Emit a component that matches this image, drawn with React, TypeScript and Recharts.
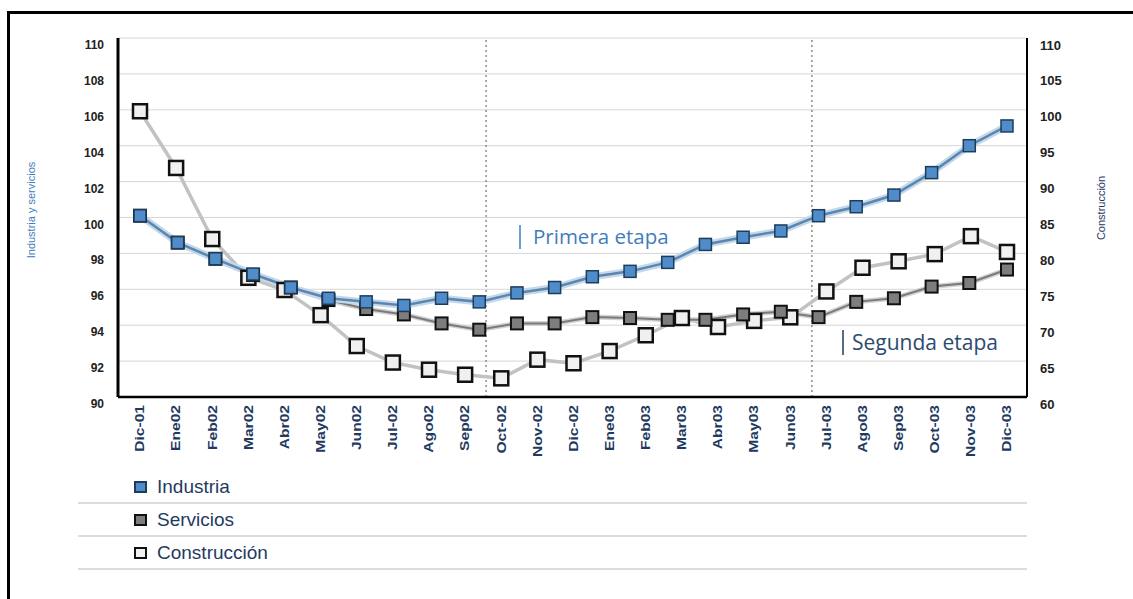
import React from "react";
import { LineChart, Line, XAxis, YAxis, CartesianGrid, ReferenceLine } from "recharts";

// Meses del eje horizontal (construcción tiene un punto por mes)
const months = [
  "Dic-01", "Ene02", "Feb02", "Mar02", "Abr02", "May02", "Jun02", "Jul-02", "Ago02", "Sep02",
  "Oct-02", "Nov-02", "Dic-02", "Ene03", "Feb03", "Mar03", "Abr03", "May03", "Jun03", "Jul-03",
  "Ago03", "Sep03", "Oct-03", "Nov-03", "Dic-03",
];

// Índices (eje izquierdo)
const industria = [
  100.1, 98.6, 97.7, 96.85, 96.1, 95.5, 95.3, 95.1, 95.5, 95.3, 95.8, 96.1,
  96.7, 97.0, 97.5, 98.5, 98.9, 99.25, 100.1, 100.6, 101.25, 102.5, 104.0, 105.1,
];
const servicios = [
  100.1, 98.6, 97.7, 96.8, 96.1, 95.4, 94.9, 94.6, 94.1, 93.75, 94.1, 94.1,
  94.45, 94.4, 94.3, 94.3, 94.6, 94.75, 94.45, 95.3, 95.5, 96.15, 96.35, 97.1,
];
// Índice de construcción (eje derecho)
const construccion = [
  99.8, 91.9, 82.0, 76.6, 74.9, 71.4, 67.1, 64.8, 63.8, 63.1, 62.6, 65.2, 64.7,
  66.4, 68.6, 71.0, 69.75, 70.6, 71.1, 74.7, 78.0, 78.9, 79.9, 82.4, 80.2,
];

const leftTicks = [90, 92, 94, 96, 98, 100, 102, 104, 106, 108, 110];
const rightTicks = [60, 65, 70, 75, 80, 85, 90, 95, 100, 105, 110];
// Cortes entre etapas, en unidades del eje de meses
const stageBreaks = [9.58, 18.6];

const industriaData = industria.map((v, i) => ({ i, v }));
const serviciosData = servicios.map((v, i) => ({ i, v }));
const construccionData = construccion.map((v, i) => ({ i, v }));

const NAVY = "#1f3a5f";
const BLUE = "#3f7dbd";
const sans = "'Liberation Sans', Arial, sans-serif";

const series = [
  { name: "Industria", fill: "#4f8cc9", stroke: "#1d3d5c" },
  { name: "Servicios", fill: "#7d7d7d", stroke: "#111" },
  { name: "Construcción", fill: "#f0f0f0", stroke: "#111" },
];

function squareDot(fill: string, stroke: string, size: number, sw: number) {
  return (props: any) => {
    const { cx, cy, index } = props;
    if (cx == null || cy == null) return <g key={index} />;
    return (
      <rect
        key={index}
        x={cx - size / 2}
        y={cy - size / 2}
        width={size}
        height={size}
        fill={fill}
        stroke={stroke}
        strokeWidth={sw}
      />
    );
  };
}

// etiquetas de mes giradas y algo estiradas (tipografía condensada)
function MonthTick(props: any) {
  const { x, y, payload } = props;
  return (
    <text
      transform={`translate(${x}, ${y}) rotate(-90) scale(1.3, 1)`}
      textAnchor="end"
      dominantBaseline="central"
      fontFamily={sans}
      fontSize={12}
      fontWeight="bold"
      fill={NAVY}
    >
      {months[payload.value]}
    </text>
  );
}

function ValueTick(props: any) {
  const { x, y, payload, textAnchor, size } = props;
  return (
    <text
      x={x}
      y={y + 7}
      textAnchor={textAnchor}
      dominantBaseline="central"
      fontFamily={sans}
      fontSize={size}
      fontWeight="bold"
      fill="#222"
    >
      {payload.value}
    </text>
  );
}

export default function App() {
  return (
    <div style={{ position: "absolute", left: 0, top: 0, width: 1133, height: 599, background: "#fff", overflow: "hidden" }}>
      <div
        style={{
          position: "absolute",
          left: 7,
          top: 11,
          width: 1140,
          height: 600,
          borderLeft: "3px solid #000",
          borderTop: "3px solid #000",
        }}
      />
      <div style={{ position: "absolute", left: 0, top: 0 }}>
        <LineChart width={1133} height={470} margin={{ top: 38, right: 56, left: 78, bottom: 8 }}>
          <CartesianGrid
            xAxisId="m"
            yAxisId="left"
            vertical={false}
            stroke="#d6d6d6"
            strokeWidth={1}
          />
          <XAxis
            xAxisId="m"
            type="number"
            dataKey="i"
            domain={[0, 24]}
            ticks={months.map((_, i) => i)}
            interval={0}
            padding={{ left: 22, right: 20 }}
            height={65}
            tick={<MonthTick />}
            tickLine={false}
            tickMargin={2}
            axisLine={{ stroke: "#000", strokeWidth: 2.5 }}
          />
          <XAxis
            xAxisId="s"
            type="number"
            dataKey="i"
            domain={[0, 23]}
            padding={{ left: 22, right: 20 }}
            hide
          />
          <YAxis
            yAxisId="left"
            domain={[90, 110]}
            ticks={leftTicks}
            interval={0}
            width={40}
            tickLine={false}
            tickMargin={8}
            axisLine={{ stroke: "#000", strokeWidth: 3 }}
            tick={<ValueTick size={12} />}
          />
          <YAxis
            yAxisId="right"
            orientation="right"
            domain={[60, 110]}
            ticks={rightTicks}
            interval={0}
            width={50}
            tickLine={false}
            tickMargin={7}
            axisLine={{ stroke: "#000", strokeWidth: 2 }}
            tick={<ValueTick size={13} />}
          />
          {stageBreaks.map((b) => (
            <ReferenceLine
              key={b}
              xAxisId="m"
              yAxisId="left"
              x={b}
              stroke="#555"
              strokeDasharray="2 3"
              strokeWidth={1}
            />
          ))}

          {/* construcción: trazo gris claro, eje derecho */}
          <Line
            xAxisId="m"
            yAxisId="right"
            data={construccionData}
            dataKey="v"
            stroke="#c2c2c2"
            strokeWidth={3.5}
            dot={squareDot(series[2].fill, series[2].stroke, 14, 2.5)}
            isAnimationActive={false}
          />
          {/* servicios */}
          <Line
            xAxisId="s"
            yAxisId="left"
            data={serviciosData}
            dataKey="v"
            stroke="#d2d2d2"
            strokeWidth={5}
            dot={false}
            activeDot={false}
            isAnimationActive={false}
          />
          <Line
            xAxisId="s"
            yAxisId="left"
            data={serviciosData}
            dataKey="v"
            stroke="#7a7a7a"
            strokeWidth={2}
            dot={squareDot(series[1].fill, series[1].stroke, 12, 2)}
            isAnimationActive={false}
          />
          {/* industria: línea azul con halo claro */}
          <Line
            xAxisId="s"
            yAxisId="left"
            data={industriaData}
            dataKey="v"
            stroke="#c4d8ec"
            strokeWidth={7}
            dot={false}
            activeDot={false}
            isAnimationActive={false}
          />
          <Line
            xAxisId="s"
            yAxisId="left"
            data={industriaData}
            dataKey="v"
            stroke="#5d86ae"
            strokeWidth={2.5}
            dot={squareDot(series[0].fill, series[0].stroke, 12, 1.5)}
            isAnimationActive={false}
          />
        </LineChart>
      </div>

      {/* títulos de ejes y etapas */}
      <svg width={1133} height={470} style={{ position: "absolute", left: 0, top: 0, pointerEvents: "none" }}>
        <text
          transform="translate(31, 210) rotate(-90)"
          textAnchor="middle"
          dominantBaseline="central"
          fontFamily={sans}
          fontSize={11}
          fill={BLUE}
        >
          Industria y servicios
        </text>
        <text
          transform="translate(1101, 208) rotate(-90)"
          textAnchor="middle"
          dominantBaseline="central"
          fontFamily={sans}
          fontSize={11}
          fill={NAVY}
        >
          Construcción
        </text>
        <line x1={520} y1={225} x2={520} y2={249} stroke={BLUE} strokeWidth={1.5} />
        <text x={533} y={244} fontFamily="'Open Sans', sans-serif" fontSize={20.5} fill={BLUE}>
          Primera etapa
        </text>
        <line x1={843} y1={330} x2={843} y2={355} stroke={NAVY} strokeWidth={1.5} />
        <text x={852} y={350} fontFamily="'Open Sans', sans-serif" fontSize={21} fill="#2b4a70">
          Segunda etapa
        </text>
      </svg>

      {/* leyenda */}
      <div style={{ position: "absolute", left: 78, top: 471, width: 949 }}>
        {series.map((s) => (
          <div
            key={s.name}
            style={{
              height: 33,
              borderBottom: "2px solid #dcdcdc",
              display: "flex",
              alignItems: "center",
              boxSizing: "border-box",
            }}
          >
            <span
              style={{
                display: "inline-block",
                width: 9,
                height: 8,
                marginLeft: 56,
                marginRight: 10,
                background: s.fill,
                border: `2px solid ${s.stroke}`,
              }}
            />
            <span style={{ fontFamily: sans, fontSize: 19, color: NAVY }}>{s.name}</span>
          </div>
        ))}
      </div>
    </div>
  );
}
